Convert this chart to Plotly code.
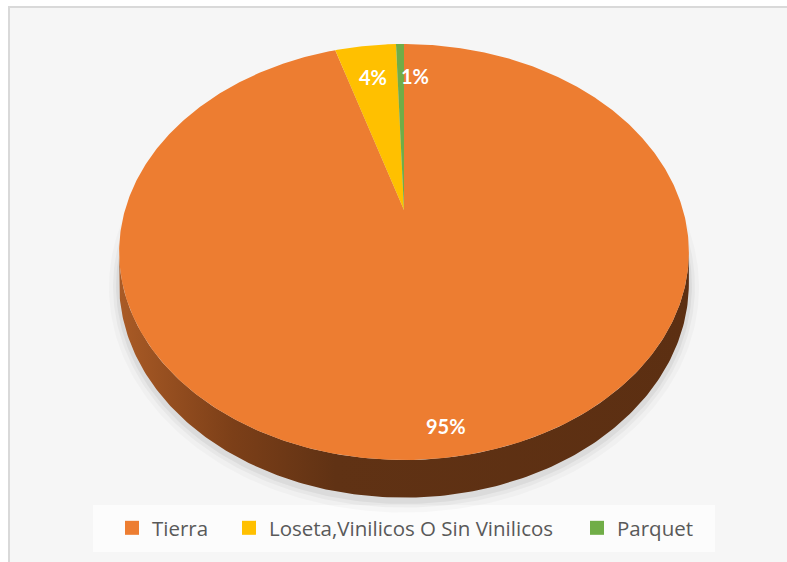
import numpy as np
import plotly.graph_objects as go

# ---------------- data ----------------
categories = ["Tierra", "Loseta,Vinilicos O Sin Vinilicos", "Parquet"]
values = [95.25, 4.2, 0.55]          # share of each floor type (%)
colors = ["#ED7D31", "#FFC000", "#70AD47"]

# ---------------- geometry / style ----------------
W, H = 787, 562
CX, CY = 404, 210           # apex of the pie on screen
A, B, K = 279, 199.5, 0.202  # horizontal / vertical radius, perspective factor
DEPTH = 30                  # thickness of the 3D side
LABEL_R = [0.9, 0.78, 0.78]
LABEL_DX = [-4, 0, 14]


def proj(theta_deg, r=1.0, drop=0.0):
    t = np.radians(theta_deg)
    w = 1 + K * r * np.cos(t)
    x = CX + A * r * np.sin(t) / w
    y = CY - B * r * np.cos(t) / w + drop / w
    return x, y


fig = go.Figure()

total = sum(values)
fractions = [v / total for v in values]
starts = np.concatenate([[0], np.cumsum(fractions)[:-1]]) * 360
ends = np.cumsum(fractions) * 360

# ---- soft shadow around the base ----
th_all = np.linspace(0, 360, 361)
for grow, alpha in [(10, 0.025), (6, 0.035), (3, 0.05)]:
    t = np.radians(th_all)
    w = 1 + K * np.cos(t)
    xs = CX + (A + grow) * np.sin(t) / w
    ys = CY - (B + grow) * np.cos(t) / w + (DEPTH + 2) / w
    fig.add_trace(go.Scatter(x=xs, y=ys, mode="lines", fill="toself",
                             fillcolor=f"rgba(0,0,0,{alpha})",
                             line=dict(width=0), hoverinfo="skip",
                             showlegend=False))

# ---- visible side walls ----
vis_lo = np.degrees(np.arccos(-K))
vis_hi = 360 - vis_lo
for cat, a0, a1 in zip(categories, starts, ends):
    lo, hi = max(a0, vis_lo), min(a1, vis_hi)
    if hi <= lo:
        continue
    th = np.linspace(lo, hi, 200)
    xt, yt = proj(th)
    xb, yb = proj(th[::-1], drop=DEPTH)
    fig.add_trace(go.Scatter(
        x=np.concatenate([xt, xb]), y=np.concatenate([yt, yb]),
        mode="lines", fill="toself", line=dict(width=0),
        fillgradient=dict(type="horizontal", start=118, stop=690,
                          colorscale=[[0, "#aa5b26"], [0.2, "#7c3f18"],
                                      [0.38, "#603214"], [1, "#5c2f12"]]),
        hoverinfo="skip", showlegend=False))

# ---- top faces ----
for cat, a0, a1, col in zip(categories, starts, ends, colors):
    n = max(int((a1 - a0) * 2), 4)
    th = np.linspace(a0, a1, n)
    xr, yr = proj(th)
    xs = np.concatenate([[CX], xr, [CX]])
    ys = np.concatenate([[CY], yr, [CY]])
    fig.add_trace(go.Scatter(x=xs, y=ys, mode="lines", fill="toself",
                             fillcolor=col, line=dict(width=0, color=col),
                             name=cat, hoverinfo="skip", showlegend=False))

# ---- data labels ----
for frac, a0, a1, r, dx in zip(fractions, starts, ends, LABEL_R, LABEL_DX):
    mid = (a0 + a1) / 2
    lx, ly = proj(mid, r=r)
    fig.add_annotation(x=lx + dx, y=ly, text=f"{round(frac * 100):.0f}%",
                       showarrow=False, xanchor="center", yanchor="middle",
                       font=dict(family="Lato", size=20, color="white",
                                 weight="bold"))

# ---- legend entries (three separate legends for Excel-like spacing) ----
legend_x = [112, 229, 577]   # screen x of the left edge of each legend
for i, (cat, col) in enumerate(zip(categories, colors)):
    lg = "legend" if i == 0 else f"legend{i + 1}"
    fig.add_trace(go.Scatter(x=[None], y=[None], mode="markers",
                             marker=dict(symbol="square", size=14, color=col),
                             name=cat, legend=lg, showlegend=True))

legend_common = dict(orientation="h", yanchor="middle", xanchor="left",
                     bgcolor="rgba(0,0,0,0)", borderwidth=0,
                     itemwidth=30,
                     font=dict(family="Open Sans", size=20.5, color="#595959"))
layout_legends = {}
for i, lx in enumerate(legend_x):
    key = "legend" if i == 0 else f"legend{i + 1}"
    layout_legends[key] = dict(x=lx / W, y=1 - 528 / H, **legend_common)

fig.update_layout(
    width=W, height=H,
    margin=dict(l=0, r=0, t=0, b=0),
    paper_bgcolor="white", plot_bgcolor="rgba(0,0,0,0)",
    hovermode=False,
    xaxis=dict(range=[0, W], visible=False, fixedrange=True),
    yaxis=dict(range=[H, 0], visible=False, fixedrange=True),
    shapes=[
        dict(type="rect", xref="paper", yref="paper",
             x0=9 / W, y0=1 - 7 / H, x1=1.1, y1=-0.1,
             fillcolor="#f6f6f6", line=dict(color="#d9d9d9", width=2),
             layer="below"),
        dict(type="rect", xref="x", yref="y", x0=93, y0=505, x1=715, y1=552,
             fillcolor="#fcfcfc", line=dict(width=0), layer="below"),
    ],
    **layout_legends,
)

fig.write_html(
    "out.html",
    config={"displayModeBar": False},
    post_script="document.documentElement.style.overflow='hidden';"
                "document.body.style.margin='0';"
                "document.body.style.overflow='hidden';",
)
